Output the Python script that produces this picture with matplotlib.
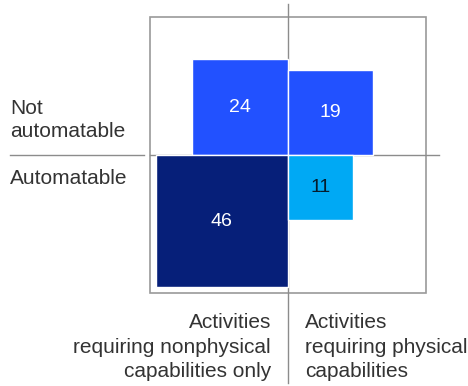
# Automation potential by capability type - area-proportional squares
import numpy as np
import matplotlib.pyplot as plt
from matplotlib.patches import Rectangle

plt.rcParams['font.family'] = ['Liberation Sans', 'DejaVu Sans']

# Data
quadrants = ['not_nonphysical', 'not_physical', 'auto_nonphysical', 'auto_physical']
values = [24, 19, 46, 11]
colors = ['#2251FF', '#2251FF', '#061F79', '#00A9F4']
text_colors = ['white', 'white', 'white', '#051C2C']
row_labels = ['Not\nautomatable', 'Automatable']
col_labels = ['Activities\nrequiring nonphysical\ncapabilities only',
              'Activities\nrequiring physical\ncapabilities']

fig = plt.figure(figsize=(4.68, 3.86), dpi=100)
ax = fig.add_axes([0, 0, 1, 1])
ax.set_xlim(-14.77, 9.23)
ax.set_ylim(-11.85, 7.95)
ax.set_aspect('equal')
ax.axis('off')

line_c = '#8c8c8c'
# outer box
ax.add_patch(Rectangle((-7.1, -7.1), 14.2, 14.2, fill=False, ec='#9a9a9a', lw=1.2, zorder=1))
# divider lines
ax.plot([0, 0], [-11.7, 7.75], color=line_c, lw=1, zorder=1)
ax.plot([-14.26, -7.4], [0, 0], color=line_c, lw=1, zorder=1)
ax.plot([-7.1, 7.75], [0, 0], color=line_c, lw=1, zorder=1)

# squares: side = sqrt(value), anchored at centre
for i, (v, c, tc) in enumerate(zip(values, colors, text_colors)):
    s = np.sqrt(v)
    x0 = -s if i in (0, 2) else 0
    y0 = 0 if i in (0, 1) else -s
    ax.add_patch(Rectangle((x0, y0), s, s, fc=c, ec='white', lw=1, zorder=2))
    ax.text(x0 + s / 2, y0 + s / 2, str(v), color=tc, fontsize=14,
            ha='center', va='center', zorder=3)

# row labels
ax.text(-14.26, 0.7, row_labels[0], fontsize=15, color='#333333',
        ha='left', va='bottom', linespacing=1.3)
ax.text(-14.26, -0.72, row_labels[1], fontsize=15, color='#333333',
        ha='left', va='top')

# column labels
ax.text(-0.87, -8.12, col_labels[0], fontsize=15, color='#333333',
        ha='right', va='top', multialignment='right', linespacing=1.35)
ax.text(0.87, -8.12, col_labels[1], fontsize=15, color='#333333',
        ha='left', va='top', multialignment='left', linespacing=1.35)

plt.savefig('out.png', dpi=100)
